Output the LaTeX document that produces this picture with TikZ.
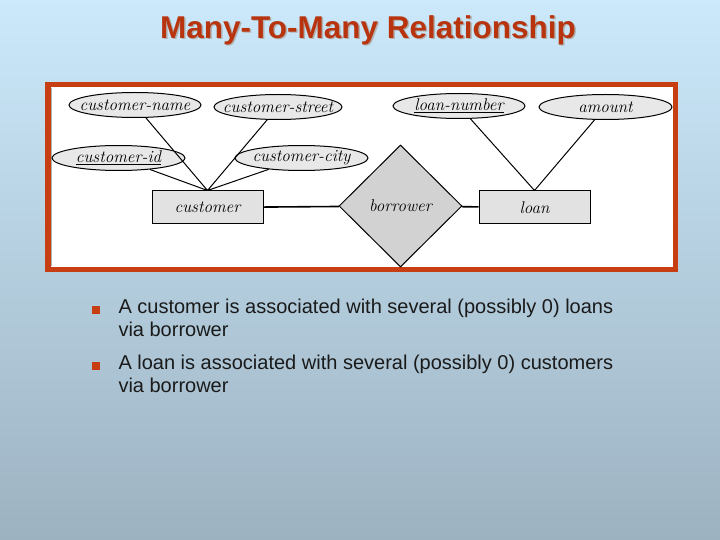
\documentclass[tikz,border=0pt]{standalone}
\usepackage{fontspec}
\setsansfont{Liberation Sans}
\usetikzlibrary{shapes.geometric,positioning}
\definecolor{bgtop}{HTML}{CBE9FB}
\definecolor{bgbot}{HTML}{9DB2C1}
\definecolor{titlered}{HTML}{B8340E}
\definecolor{framered}{HTML}{C73E12}
\definecolor{boxgray}{HTML}{E2E2E2}
\definecolor{ellgray}{HTML}{E8E8E8}
\definecolor{diagray}{HTML}{D2D2D2}
\definecolor{textgray}{HTML}{1A1A1A}

\begin{document}
\begin{tikzpicture}[x=1pt,y=-1pt,line width=1pt,
  entity/.style={rectangle,draw,fill=boxgray,minimum width=111pt,minimum height=33pt,
    font=\itshape\fontsize{17}{17}\selectfont},
  attrib/.style={ellipse,draw,fill=ellgray,inner xsep=-40pt,inner ysep=0pt,
    minimum height=25pt,font=\itshape\fontsize{17}{17}\selectfont},
  rel/.style={diamond,draw,fill=diagray,minimum width=123pt,minimum height=122pt,
    inner sep=0pt,font=\itshape\fontsize{17}{17}\selectfont},
  bullet/.style={rectangle,fill=framered,minimum size=8pt,inner sep=0pt},
  item/.style={font=\sffamily\fontsize{20}{23}\selectfont,align=left,
    anchor=north west,text=textgray,inner sep=0pt}]
   % slide background and title
   \fill[top color=bgtop,bottom color=bgbot] (0,0) rectangle (720,540);
   \node[text=gray!60,font=\sffamily\bfseries\fontsize{31.5}{33}\selectfont] (shadow) at (369.5,31.5) {Many-To-Many Relationship};
   \node[text=titlered,font=\sffamily\bfseries\fontsize{31.5}{33}\selectfont] (title) at (368,30) {Many-To-Many Relationship};
   % frame round the E-R diagram
   \draw[line width=5.5pt,draw=framered,fill=white] (47.75,84.75) rectangle (675.25,269.25);
   \draw[gray!60,line width=0.8pt] (51,88) -- (51,266);

   \node[entity] (customer) at (207.5,207.5) {customer};
   \node[rel]    (borrower) at (400.5,206)   {borrower};
   \node[entity] (loan)     at (534.5,207.5) {loan};
   \node[attrib,minimum width=132pt] (cname)   at (135,105) {customer-name};
   \node[attrib,minimum width=128pt] (cstreet) at (278,107) {customer-street};
   \node[attrib,minimum width=133pt] (cid)     at (118.5,158) {\underline{customer-id}};
   \node[attrib,minimum width=133pt] (ccity)   at (301.5,158) {customer-city};
   \node[attrib,minimum width=132pt] (lnumber) at (459,106) {\underline{loan-number}};
   \node[attrib,minimum width=133pt] (amount)  at (605.5,107) {amount};

   \draw (cname)   -- (customer.north)
         (cstreet) -- (customer.north)
         (cid)     -- (customer.north)
         (ccity)   -- (customer.north)
         (lnumber) -- (loan.north)
         (amount)  -- (loan.north);
   \draw[line width=1.6pt] (customer) -- (borrower)
         (borrower) -- (loan);

   % bullet points
   \node[bullet] (b1) at (96,309.5) {};
   \node[item] (t1) at (118,299) {A customer is associated with several (possibly 0) loans\\via borrower};
   \node[bullet] (b2) at (96,365.5) {};
   \node[item] (t2) at (118,355) {A loan is associated with several (possibly 0) customers\\via borrower};
\end{tikzpicture}
\end{document}
